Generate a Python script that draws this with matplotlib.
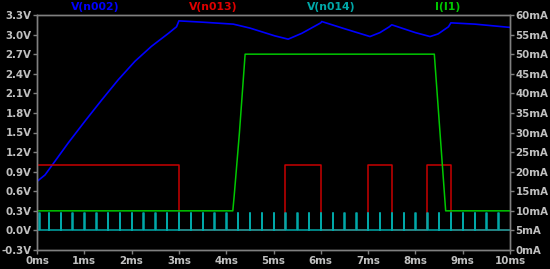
import matplotlib
matplotlib.use('Agg')
import matplotlib.pyplot as plt

# V(n002) - blue, volts
blue_t = [0, 0.17, 0.35, 0.66, 1.01, 1.37, 1.72, 2.07, 2.42, 2.78, 2.95, 3.0, 3.5, 4.15, 4.5, 5.03, 5.31,
          5.6, 5.85, 6.0, 6.02, 6.5, 7.04, 7.25, 7.45, 7.5, 8.0, 8.31, 8.48, 8.7, 8.75, 9.26, 10.0]
blue_v = [0.75, 0.85, 1.03, 1.34, 1.67, 2.0, 2.31, 2.59, 2.82, 3.02, 3.12, 3.21, 3.19, 3.16, 3.10, 2.98, 2.93,
          3.02, 3.12, 3.18, 3.20, 3.09, 2.97, 3.03, 3.12, 3.15, 3.03, 2.97, 3.01, 3.12, 3.18, 3.16, 3.11]

# V(n013) - red, volts
red_t = [0, 3, 3, 5.25, 5.25, 6, 6, 7, 7, 7.5, 7.5, 8.25, 8.25, 8.75, 8.75, 10]
red_v = [1, 1, 0, 0, 1, 1, 0, 0, 1, 1, 0, 0, 1, 1, 0, 0]

# V(n014) - cyan, narrow pulses
spike_times = [0.05, 0.25, 0.5, 0.75, 1.0, 1.25, 1.5, 1.75, 2.0, 2.25, 2.5, 2.75, 3.0, 3.25, 3.5, 3.75,
               4.0, 4.25, 4.5, 4.75, 5.0, 5.25, 5.5, 5.75, 6.0, 6.25, 6.5, 6.75, 7.0, 7.25, 7.5, 7.75,
               8.0, 8.25, 8.5, 8.75, 9.0, 9.25, 9.5, 9.75]
spike_high = 0.27

# I(I1) - green, mA
green_t = [0, 4.14, 4.17, 4.28, 4.40, 8.40, 8.52, 8.64, 10]
green_i = [10, 10, 14, 30, 50, 50, 30, 10, 10]

volt_ticks = [-0.3, 0.0, 0.3, 0.6, 0.9, 1.2, 1.5, 1.8, 2.1, 2.4, 2.7, 3.0, 3.3]
amp_ticks = [0, 5, 10, 15, 20, 25, 30, 35, 40, 45, 50, 55, 60]
time_ticks = [0, 1, 2, 3, 4, 5, 6, 7, 8, 9, 10]

cyan_t = [0]
cyan_v = [0]
for t in spike_times:
    cyan_t += [t, t, t + 0.008, t + 0.008]
    cyan_v += [0, spike_high, spike_high, 0]
cyan_t.append(10)
cyan_v.append(0)

grid_col = '#808080'
lab_col = '#c0c0c0'

fig = plt.figure(figsize=(5.5, 2.69), dpi=100, facecolor='black')
ax = fig.add_axes([37 / 550, 1 - 250 / 269, 473 / 550, 235 / 269], facecolor='black')
ax.plot(blue_t, blue_v, color='#0000ff', lw=1.2, zorder=2)
ax.plot(red_t, red_v, color='#c80000', lw=1.1, zorder=3)
ax.plot(cyan_t, cyan_v, color='#00a8a8', lw=1.1, zorder=4)
ax.set_xlim(0, 10)
ax.set_ylim(-0.3, 3.3)
ax.set_xticks(time_ticks)
ax.set_xticklabels([f'{t}ms' for t in time_ticks])
ax.set_yticks(volt_ticks)
ax.set_yticklabels([f'{v:.1f}V' for v in volt_ticks])

ax2 = ax.twinx()
ax2.plot(green_t, green_i, color='#00c800', lw=1.1)
ax2.set_ylim(0, 60)
ax2.set_yticks(amp_ticks)
ax2.set_yticklabels([f'{a}mA' for a in amp_ticks])

for a in (ax, ax2):
    for s in a.spines.values():
        s.set_color(grid_col)
        s.set_linewidth(1.0)
    a.tick_params(colors=grid_col, labelcolor=lab_col, length=3, width=1.0, pad=1, labelsize=7.4)
    for lbl in a.get_xticklabels() + a.get_yticklabels():
        lbl.set_fontweight('bold')

titles = [('V(n002)', 95, '#0000ff'), ('V(n013)', 213, '#e00000'),
          ('V(n014)', 331, '#00a8a8'), ('I(I1)', 448, '#00c800')]
for name, xp, col in titles:
    fig.text(xp / 550, 1 - 7 / 269, name, color=col, fontsize=7.8, fontweight='bold',
             ha='center', va='center')

fig.savefig('out.png', dpi=100, facecolor='black')
